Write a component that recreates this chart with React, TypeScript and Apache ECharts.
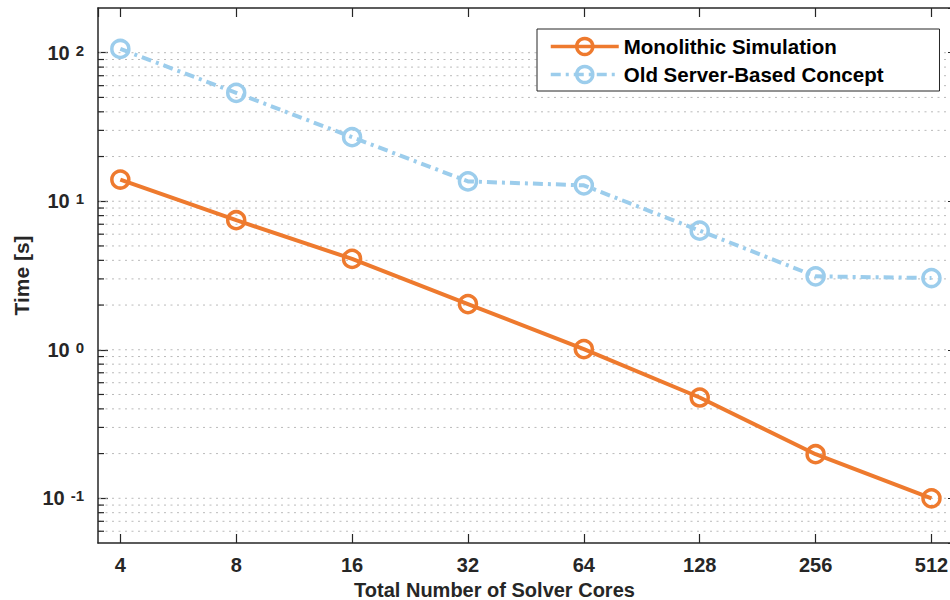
import React, { useEffect, useRef } from "react";
import * as echarts from "echarts";

const CORES = [4, 8, 16, 32, 64, 128, 256, 512];
const MONOLITHIC = [14.0, 7.45, 4.09, 2.03, 1.01, 0.477, 0.198, 0.1];
const OLD_SERVER = [106, 53.7, 27.0, 13.6, 12.8, 6.34, 3.12, 3.04];
const SERIES_NAMES = ["Monolithic Simulation", "Old Server-Based Concept"];
const X_MIN = 3.5;
const X_MAX = 600;
const Y_MIN = 0.05;
const Y_MAX = 200;
const GRID_DECADES = [0.01, 0.1, 1, 10, 100];
const GRID_MANTISSAS = [1, 2, 3, 4, 5, 6, 7, 8, 9];

const ORANGE = "#EE7A2E";
const BLUE = "#9CCDEC";
const AXIS = "#262626";
const FONT = "'Liberation Sans', Arial, Helvetica, sans-serif";

export default function App() {
  const ref = useRef<HTMLDivElement>(null);
  useEffect(() => {
    if (!ref.current) return;
    const chart = echarts.init(ref.current, null, { renderer: "svg" });

    const gridValues: number[][] = [];
    GRID_DECADES.forEach((d) => {
      GRID_MANTISSAS.forEach((m) => {
        const v = parseFloat((d * m).toPrecision(6));
        if (v > Y_MIN * 1.0001 && v < Y_MAX * 0.9999) gridValues.push([CORES[0], v, m === 1 ? 1 : 0]);
      });
    });

    const axisTextStyle = { color: AXIS, fontFamily: FONT, fontWeight: "bold" as const, fontSize: 20 };

    chart.setOption({
      animation: false,
      backgroundColor: "#fff",
      textStyle: { fontFamily: FONT },
      grid: { left: 98, top: 8, right: -8, bottom: 57, containLabel: false, outerBoundsMode: "none" },
      legend: {
        data: SERIES_NAMES,
        orient: "vertical",
        left: 537,
        top: 29,
        itemWidth: 68,
        itemHeight: 20,
        itemGap: 7,
        padding: [7, 56, 6, 12],
        borderColor: AXIS,
        borderWidth: 1,
        backgroundColor: "#fff",
        lineStyle: { width: 3.5 },
        itemStyle: { borderWidth: 3.5 },
        textStyle: { color: "#000", fontFamily: FONT, fontWeight: "bold", fontSize: 20.5, lineHeight: 20 },
      },
      xAxis: [
        {
          type: "log",
          logBase: 2,
          min: X_MIN,
          max: X_MAX,
          position: "bottom",
          name: "Total Number of Solver Cores",
          nameLocation: "middle",
          nameGap: 30,
          nameTextStyle: { ...axisTextStyle, padding: [0, 67, 0, 0] },
          axisLine: { show: true, lineStyle: { color: AXIS, width: 1.5 } },
          axisTick: { show: true, inside: true, length: 9, lineStyle: { color: AXIS, width: 1.2 } },
          axisLabel: {
            ...axisTextStyle,
            margin: 12,
            showMinLabel: false,
            showMaxLabel: false,
            formatter: (v: number) => String(Math.round(v)),
          },
          splitLine: { show: false },
        },
        {
          type: "log",
          logBase: 2,
          min: X_MIN,
          max: X_MAX,
          position: "top",
          axisLine: { show: true, lineStyle: { color: AXIS, width: 1.5 } },
          axisTick: { show: true, inside: true, length: 9, lineStyle: { color: AXIS, width: 1.2 } },
          axisLabel: { show: false },
          splitLine: { show: false },
        },
      ],
      yAxis: [
        {
          type: "log",
          logBase: 10,
          min: Y_MIN,
          max: Y_MAX,
          position: "left",
          name: "Time [s]",
          nameLocation: "middle",
          nameGap: 63,
          nameTextStyle: { ...axisTextStyle, fontSize: 21 },
          axisLine: { show: true, lineStyle: { color: AXIS, width: 1.5 } },
          axisTick: { show: true, inside: true, length: 10, lineStyle: { color: AXIS, width: 1.2 } },
          axisLabel: {
            margin: 14,
            showMinLabel: false,
            showMaxLabel: false,
            formatter: (v: number) => `{b|10}{e|${Math.round(Math.log10(v))}}`,
            rich: {
              b: {
                fontFamily: FONT,
                fontWeight: "bold",
                fontSize: 20,
                color: AXIS,
                lineHeight: 20,
                padding: [6, 0, 0, 0],
                verticalAlign: "bottom",
              },
              e: {
                fontFamily: FONT,
                fontWeight: "bold",
                fontSize: 15,
                color: AXIS,
                lineHeight: 16,
                padding: [0, 0, 0, 6],
                verticalAlign: "top",
              },
            },
          },
          splitLine: { show: false },
        },
        {
          type: "log",
          logBase: 10,
          min: Y_MIN,
          max: Y_MAX,
          position: "right",
          axisLine: { show: true, lineStyle: { color: AXIS, width: 1.5 } },
          axisTick: { show: true, inside: true, length: 10, lineStyle: { color: AXIS, width: 1.2 } },
          axisLabel: { show: false },
          splitLine: { show: false },
        },
      ],
      series: [
        {
          type: "custom",
          name: "grid",
          silent: true,
          z: 1,
          xAxisIndex: 0,
          yAxisIndex: 0,
          data: gridValues,
          renderItem: (params: any, api: any) => {
            const cs = params.coordSys;
            const y = api.coord([api.value(0), api.value(1)])[1];
            const major = api.value(2) === 1;
            const children: any[] = [
              {
                type: "line",
                shape: { x1: cs.x + 1, y1: y, x2: cs.x + cs.width, y2: y },
                style: { stroke: "#bababa", lineWidth: 1, lineDash: [2, 4.5] },
              },
            ];
            if (!major) {
              children.push({
                type: "line",
                shape: { x1: cs.x, y1: y, x2: cs.x + 6, y2: y },
                style: { stroke: AXIS, lineWidth: 1.2 },
              });
            }
            return { type: "group", children };
          },
        },
        {
          type: "line",
          name: SERIES_NAMES[0],
          z: 3,
          data: CORES.map((c, i) => [c, MONOLITHIC[i]]),
          symbol: "circle",
          symbolSize: 17,
          lineStyle: { color: ORANGE, width: 4 },
          itemStyle: { color: "rgba(255,255,255,0)", borderColor: ORANGE, borderWidth: 3.5 },
        },
        {
          type: "line",
          name: SERIES_NAMES[1],
          z: 3,
          data: CORES.map((c, i) => [c, OLD_SERVER[i]]),
          symbol: "circle",
          symbolSize: 17,
          lineStyle: { color: BLUE, width: 4, type: [10, 5, 3, 5] },
          itemStyle: { color: "rgba(255,255,255,0)", borderColor: BLUE, borderWidth: 3.5 },
        },
      ],
    });
    return () => chart.dispose();
  }, []);
  return <div ref={ref} style={{ position: "absolute", left: 0, top: 0, width: 950, height: 600 }} />;
}
